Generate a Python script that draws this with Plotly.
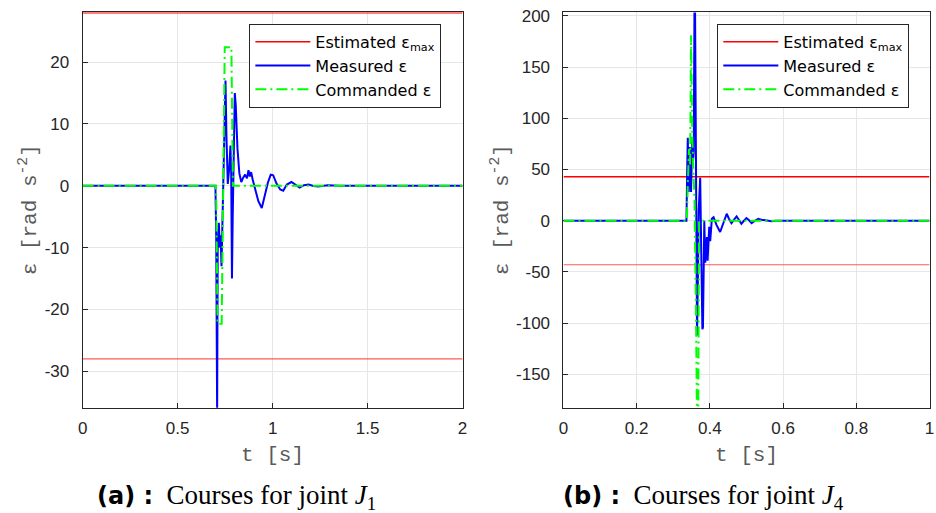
import plotly.graph_objects as go

# ---------------- data ----------------
# Joint J1 (left)
j1_emax = 28.0
j1_t_meas = [0, 0.699, 0.703, 0.706, 0.708, 0.711, 0.714, 0.717, 0.722, 0.726, 0.731, 0.736,
             0.742, 0.748, 0.752, 0.757, 0.764, 0.772, 0.778, 0.782, 0.786, 0.79, 0.795, 0.801,
             0.806, 0.815, 0.825, 0.835, 0.845, 0.855, 0.865, 0.873, 0.88, 0.887, 0.895, 0.91,
             0.925, 0.943, 0.96, 0.975, 0.99, 1.003, 1.02, 1.04, 1.056, 1.075, 1.099, 1.12,
             1.142, 1.165, 1.19, 1.215, 1.24, 1.29, 1.35, 2.0]
j1_v_meas = [0, 0, -8, -30, -37, -10, -7, -6, -10, -8, -13, -5,
             5, 14, 17, 8, 0.3, 3, 6.5, 2, -15, -5, 8, 15,
             13, 6, 2, 0.6, 1.3, 1.8, 1.2, 2.5, 1.5, 2.2, 1.0, -0.8,
             -2.5, -3.6, -1.5, 0.5, 1.8, 1.7, 0.4, -0.6, -0.8, 0.2, 0.6, 0.1,
             -0.3, 0.1, 0.2, -0.05, -0.1, 0.1, 0, 0]
j1_t_cmd = [0, 0.702, 0.706, 0.71, 0.732, 0.736, 0.742, 0.748, 0.783, 0.787, 0.791, 2.0]
j1_v_cmd = [0, 0, -10, -22.3, -22.3, -10, 5, 22.4, 22.4, 10, 0, 0]

# Joint J4 (right)
j4_emax = 43.0
j4_t_meas = [0, 0.336, 0.338, 0.3396, 0.3423, 0.345, 0.3486, 0.3514, 0.3541, 0.3559, 0.3586,
             0.3622, 0.3649, 0.3672, 0.3694, 0.3735, 0.3757, 0.3795, 0.3811, 0.3847, 0.3874,
             0.3919, 0.3937, 0.3982, 0.4009, 0.4054, 0.41, 0.418, 0.428, 0.437, 0.446, 0.452,
             0.459, 0.466, 0.473, 0.48, 0.486, 0.493, 0.5, 0.507, 0.514, 0.523, 0.532, 0.541,
             0.55, 0.56, 0.568, 0.58, 0.6, 1.0]
j4_v_meas = [0, 0, 50, 81, 28, 72, 28, 78, 59, 68, 260,
             -20, -112, -60, 10, 42, -20, -106, -104, 0, -41,
             -16, -39, -6, -20, 2, 3.5, -4, -11, -2, 6.8, 2,
             -2.3, 1, 4.2, 0.5, -2.9, 0, 2.6, 0.5, -2.3, 0, 1.9, 1,
             0.3, -0.3, -0.6, 0, 0, 0]
j4_t_cmd = [0, 0.337, 0.34, 0.343, 0.346, 0.3486, 0.352, 0.355, 0.358, 0.362, 0.365, 0.368, 0.3705, 1.0]
j4_v_cmd = [0, 0, 40, 70, 55, 181, 80, 50, 20, -90, -200, -200, 0, 0]

# ticks
j1_xticks = [0, 0.5, 1, 1.5, 2]
j1_xtext = ["0", "0.5", "1", "1.5", "2"]
j1_yticks = [-30, -20, -10, 0, 10, 20]
j1_ytext = ["-30", "-20", "-10", "0", "10", "20"]
j4_xticks = [0, 0.2, 0.4, 0.6, 0.8, 1]
j4_xtext = ["0", "0.2", "0.4", "0.6", "0.8", "1"]
j4_yticks = [-150, -100, -50, 0, 50, 100, 150, 200]
j4_ytext = ["-150", "-100", "-50", "0", "50", "100", "150", "200"]

names = ["Estimated ε<sub>max</sub>", "Measured ε", "Commanded ε"]
captions = ["(a) :", "(b) :"]
caption_rest = ["Courses for joint <i>J</i><sub>1</sub>", "Courses for joint <i>J</i><sub>4</sub>"]

# ---------------- figure ----------------
W, H = 936, 513
fig = go.Figure()

RED, BLUE, GREEN = "#ff0000", "#0000ff", "#00ff00"


def add_panel(tmax, emax, tm, vm, tc, vc, xa, ya, leg):
    fig.add_trace(go.Scatter(x=[0, tmax], y=[emax, emax], mode="lines",
                             line=dict(color=RED, width=1.6), name=names[0],
                             xaxis=xa, yaxis=ya, legend=leg))
    fig.add_trace(go.Scatter(x=[0, tmax], y=[-emax, -emax], mode="lines",
                             line=dict(color="rgba(255,0,0,0.65)", width=1.1), showlegend=False,
                             xaxis=xa, yaxis=ya, legend=leg))
    fig.add_trace(go.Scatter(x=tm, y=vm, mode="lines", line=dict(color=BLUE, width=2),
                             name=names[1], xaxis=xa, yaxis=ya, legend=leg))
    fig.add_trace(go.Scatter(x=tc, y=vc, mode="lines",
                             line=dict(color=GREEN, width=2, dash="11px,4px,2px,4px"),
                             name=names[2], xaxis=xa, yaxis=ya, legend=leg))


add_panel(2, j1_emax, j1_t_meas, j1_v_meas, j1_t_cmd, j1_v_cmd, "x", "y", "legend")
add_panel(1, j4_emax, j4_t_meas, j4_v_meas, j4_t_cmd, j4_v_cmd, "x2", "y2", "legend2")

tickfont = dict(family="Liberation Sans, Arial, sans-serif", size=17, color="#262626")
axcommon = dict(showline=True, mirror=True, linecolor="#262626", linewidth=1,
                ticks="inside", ticklen=5, tickcolor="#262626", showgrid=True,
                gridcolor="#e6e6e6", gridwidth=1, zeroline=False, tickfont=tickfont,
                layer="below traces")

ydom = [1 - 406.5 / H, 1 - 6.5 / H]
legcommon = dict(yanchor="top", xanchor="left", bgcolor="white", bordercolor="#262626",
                 borderwidth=1, font=dict(family="DejaVu Sans", size=16, color="black"),
                 tracegroupgap=0, itemwidth=55)
fig.update_layout(
    width=W, height=H, margin=dict(l=0, r=0, t=0, b=0),
    paper_bgcolor="white", plot_bgcolor="white",
    xaxis=dict(domain=[78.5 / W, 462.5 / W], range=[0, 2], tickvals=j1_xticks,
               ticktext=j1_xtext, anchor="y", ticklabelstandoff=5, **axcommon),
    yaxis=dict(domain=ydom, range=[-35.9, 28.03], tickvals=j1_yticks, ticktext=j1_ytext,
               anchor="x", ticklabelstandoff=9, **axcommon),
    xaxis2=dict(domain=[564.5 / W, 934.5 / W], range=[0, 1], tickvals=j4_xticks,
                ticktext=j4_xtext, anchor="y2", ticklabelstandoff=5, **axcommon),
    yaxis2=dict(domain=ydom, range=[-182.6, 203.4], tickvals=j4_yticks, ticktext=j4_ytext,
                anchor="x2", ticklabelstandoff=9, **axcommon),
    legend=dict(x=247 / W, y=1 - 18 / H, **legcommon),
    legend2=dict(x=720 / W, y=1 - 18 / H, **legcommon),
    showlegend=True,
)

mono = dict(family="Liberation Mono, Courier New, monospace", size=21, color="#5a5a5a")
ytitle = "ε [rad s<sup>-2</sup>]"
for xc in [(78.5 + 462.5) / 2, (564.5 + 934.5) / 2]:
    fig.add_annotation(x=xc / W, y=1 - 455 / H, xref="paper", yref="paper",
                       text="t [s]", showarrow=False, font=mono,
                       xanchor="center", yanchor="middle")
for xc in [24, 501]:
    fig.add_annotation(x=xc / W, y=1 - 206 / H, xref="paper", yref="paper",
                       text=ytitle, showarrow=False, font=mono, textangle=-90,
                       xanchor="center", yanchor="middle")

for xc, cap, rest in zip([234, 706], captions, caption_rest):
    fig.add_annotation(
        x=xc / W, y=1 - 497 / H, xref="paper", yref="paper", showarrow=False,
        text='<span style="font-family:DejaVu Sans;font-weight:bold;font-size:24px">' + cap
             + '</span>  ' + rest,
        font=dict(family="Liberation Serif, Times New Roman, serif", size=27, color="black"),
        xanchor="center", yanchor="middle")

fig.write_html("out.html")
